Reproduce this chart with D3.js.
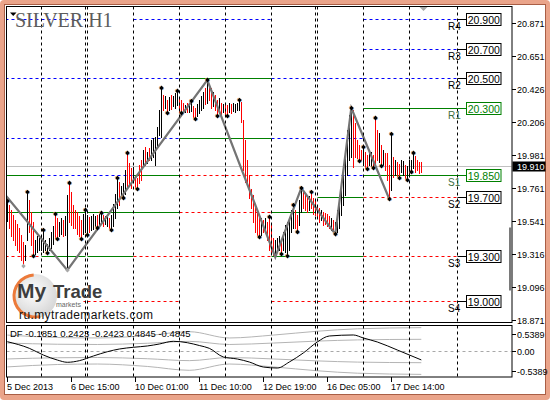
<!DOCTYPE html>
<html>
<head>
<meta charset="utf-8">
<script src="https://cdn.jsdelivr.net/npm/d3@7"></script>
<style>
  body { margin: 0; background: #fff; }
  svg { display: block; }
  text { font-family: "Liberation Sans", Arial, sans-serif; }
</style>
</head>
<body>
<svg id="chart" width="550" height="400"></svg>
<script>
// ---- data (SILVER H1, 5 Dec 2013 06:00 .. 18 Dec 2013 06:00) ----
// bars by day, high / low / direction (u = up black, d = down red)
const barHigh = [
  19.673,19.646,19.613,19.579,19.545,19.519,19.492,19.444,19.397,19.377,19.734,19.680,19.599,19.532,19.411,19.438,19.424,
  19.438,19.478,19.411,19.384,19.424,19.465,19.505,19.586,19.559,19.532,19.559,19.545,19.572,19.714,19.795,19.734,19.646,19.613,19.599,19.572,19.545,19.586,19.613,
  19.579,19.566,19.572,19.586,19.572,19.579,19.586,19.593,19.579,19.572,19.566,19.559,19.579,19.653,19.721,19.828,19.801,19.775,19.795,19.882,19.997,19.930,19.896,
  19.903,19.842,19.828,19.916,19.950,20.017,20.037,20.004,20.031,20.085,20.098,20.105,20.172,20.287,20.435,20.388,20.381,20.354,20.374,20.388,20.381,20.401,20.415,
  20.374,20.354,20.334,20.320,20.334,20.327,20.347,20.314,20.300,20.327,20.354,20.381,20.408,20.435,20.489,20.462,20.435,20.408,20.388,20.354,20.368,20.334,20.327,
  20.327,20.320,20.334,20.327,20.334,20.327,20.334,20.354,20.341,20.219,20.085,19.950,19.849,19.754,19.714,19.646,19.613,19.586,19.559,19.545,19.559,19.532,19.566,
  19.512,19.424,19.411,19.424,19.438,19.411,19.465,19.512,19.532,19.559,19.613,19.646,19.613,19.579,19.680,19.761,19.734,19.721,19.714,19.707,19.734,19.694,19.680,
  19.646,19.626,19.613,19.599,19.593,19.586,19.572,19.559,19.545,19.532,19.613,19.667,19.748,19.882,19.970,20.152,20.253,20.300,20.287,20.199,20.085,20.051,20.017,
  20.037,20.004,19.983,20.017,20.004,19.983,20.233,20.152,20.132,20.051,20.017,19.997,19.997,19.916,20.125,19.970,19.950,19.936,19.923,19.950,19.943,19.916,19.909,
  19.950,19.950,19.997,19.977,19.950,19.936,19.936
];
const barLow = [
  19.539,19.492,19.438,19.411,19.377,19.343,19.330,19.276,19.235,19.276,19.411,19.465,19.377,19.303,19.316,19.330,19.343,
  19.343,19.330,19.343,19.323,19.343,19.357,19.384,19.424,19.417,19.438,19.451,19.438,19.444,19.208,19.532,19.512,19.492,19.492,19.451,19.438,19.417,19.451,19.465,
  19.444,19.465,19.478,19.485,19.505,19.492,19.505,19.519,19.505,19.519,19.505,19.492,19.478,19.505,19.559,19.626,19.646,19.707,19.694,19.721,19.768,19.775,19.761,
  19.815,19.761,19.754,19.795,19.815,19.903,19.916,19.930,19.950,19.950,19.970,19.916,20.037,20.118,20.105,20.287,20.300,20.266,20.287,20.293,20.314,20.300,20.320,
  20.273,20.266,20.280,20.273,20.273,20.273,20.280,20.240,20.226,20.246,20.266,20.287,20.300,20.327,20.334,20.354,20.300,20.314,20.287,20.246,20.273,20.260,20.273,
  20.253,20.246,20.273,20.266,20.280,20.273,20.287,20.287,20.206,19.882,19.801,19.781,19.694,19.626,19.532,19.465,19.444,19.431,19.444,19.465,19.478,19.411,19.343,
  19.330,19.309,19.296,19.330,19.343,19.316,19.343,19.330,19.303,19.343,19.465,19.492,19.492,19.465,19.512,19.599,19.626,19.613,19.599,19.613,19.626,19.586,19.579,
  19.559,19.532,19.545,19.512,19.519,19.505,19.492,19.478,19.465,19.451,19.465,19.492,19.579,19.646,19.714,19.849,19.950,19.970,19.903,19.970,19.963,19.943,19.950,
  19.916,19.896,19.889,19.916,19.909,19.896,19.930,19.950,19.936,19.909,19.916,19.882,19.815,19.687,19.748,19.835,19.849,19.842,19.828,19.869,19.849,19.828,19.815,
  19.849,19.869,19.896,19.869,19.882,19.862,19.869
];
const barDir = (
  "u d d d d d d d d u u d d d u u u " +
  "u u u u u u u d d u u d u u d d d d d d d u u " +
  "u d u u u d u u d u u d u u u u d u u u d d d " +
  "u d d d d u d u d u u u u u u d u d u d u u u " +
  "d d d u d u u d d u u u u d u d d u d d u d u " +
  "d d u d u u u u d d d d d d d d d d u d u d d " +
  "d d u u u d u u u u u u d d u u d d d u d d d " +
  "d d u d d d d u d u u u u u u u u u d d d d d " +
  "u d d u u d d d u d u d d d u d u d d u u d u " +
  "u u u d d d d"
).trim().split(/\s+/);

const fracUp = [0,10,18,24,31,39,47,55,60,77,85,92,100,116,131,143,147,152,172,178,184,192,203];
const fracDown = [13,20,25,37,40,45,52,58,65,80,87,94,105,110,126,137,140,145,164,176,180,183,187,191,196,200,202];
const fracFaint = [8,30];

// zigzag swing points [bar, price]
const zigzag = [[-1,19.714],[30,19.208],[100,20.489],[134,19.296],[147,19.761],[164,19.451],[172,20.300],[191,19.687]];

// day separators (bar index), time axis
const separators = [17,39,40,63,86,109,132,154,155,178,201,225];
const timeBars = [0,32,64,96,128,160,192];
const timeLabels = ["5 Dec 2013","6 Dec 15:00","10 Dec 01:00","11 Dec 10:00","12 Dec 19:00","16 Dec 05:00","17 Dec 14:00"];

// price axis
const priceTicks = [20.871,20.651,20.426,20.206,19.981,19.761,19.541,19.316,19.096,18.871];
const lastPrice = 19.910;

// daily pivot levels: for each level, kind per day (R = resistance, F = first level, S = support, - = none)
const pivotDays = [[-1,17],[17,39],[40,63],[63,86],[86,109],[109,132],[132,154],[155,178],[178,225]];
const pivotLevels = [20.9,20.7,20.5,20.3,20.1,19.85,19.7,19.6,19.3,19.0];
const pivotKinds = [
  "RR-RRR--R",
  "--------R",
  "RRRRFFRRR",
  "--------F",
  "RRRRFFRR-",
  "FRRFSSRRF",
  "-------FS",
  "FFFFSSF--",
  "SFFSSSFFS",
  "SSSS--SSS"
];
const lastNames = ["R4","R3","R2","R1","S1","S2","S3","S4"];
const lastLevels = [20.9,20.7,20.5,20.3,19.85,19.7,19.3,19.0];
const lastFirst = [false,false,false,true,true,false,false,false];

// DF oscillator (sampled) and its band
const dfBars = [0,11,18,25,30,36,43,50,56,63,70,76,83,90,96,101,108,115,121,128,135,141,148,155,161,173,178,185,195,207];
const dfValues = [0.193,0.056,-0.083,-0.187,-0.234,-0.201,-0.104,-0.015,0.041,0.077,0.104,0.145,0.201,0.172,0.114,0.056,-0.124,-0.166,-0.228,-0.332,-0.353,-0.228,-0.041,0.187,0.311,0.332,0.270,0.187,0.021,-0.1851];
const bandBars = [0,25,45,70,91,111,133,155,175,207];
const bandValues = [0.33,0.28,0.27,0.32,0.40,0.27,0.33,0.41,0.46,0.4845];
const dfLegend = ["-0.1851","0.2423","-0.2423","0.4845","-0.4845"];
const dfTicks = [0.5389,0,-0.5389];
const dfTickLabels = ["0.5389","0.00","-0.5389"];

// ---- layout ----
const L = 6.5, R = 512, T = 6.5, B = 322.5, IT = 325.5, IB = 377;
const x = d3.scaleLinear().domain([0,225]).range([7.3,457.3]);
const y = d3.scaleLinear().domain([19.0,20.9]).range([301,19]);
const yi = d3.scaleLinear().domain([-0.5389,0.5389]).range([IB,IT-0.5]);
const px = v => Math.floor(x(v)) + 0.5;
const py = v => Math.round(y(v)) + 0.5;

const svg = d3.select('#chart');
const defs = svg.append('defs');
defs.append('clipPath').attr('id','clipMain').append('rect')
  .attr('x',L+0.5).attr('y',T+0.5).attr('width',R-L-1).attr('height',B-T-1);
defs.append('clipPath').attr('id','clipInd').append('rect')
  .attr('x',L+0.5).attr('y',IT+0.5).attr('width',R-L-1).attr('height',IB-IT-1);
const grad = defs.append('radialGradient').attr('id','logoGrad').attr('cx','45%').attr('cy','40%').attr('r','60%');
grad.append('stop').attr('offset','0%').attr('stop-color','#ffffff');
grad.append('stop').attr('offset','100%').attr('stop-color','#d6d6d6');

// window frame
svg.append('rect').attr('width',550).attr('height',400).attr('rx',4).attr('fill','#eaa48a');
svg.append('rect').attr('x',4.5).attr('y',4.5).attr('width',541).attr('height',390)
  .attr('fill','#fff').attr('stroke','#a95e45');

const gMain = svg.append('g').attr('clip-path','url(#clipMain)');
const gInd = svg.append('g').attr('clip-path','url(#clipInd)');

// day separators
separators.forEach(i => {
  [[T,B],[IT,IB]].forEach(([a,b]) => {
    svg.append('line').attr('x1',px(i)).attr('x2',px(i)).attr('y1',a).attr('y2',b)
      .attr('stroke','#000').attr('stroke-dasharray','3,3');
  });
});

// pivot levels
const kindColor = { R: '#0000ff', F: '#008000', S: '#ff0000' };
pivotLevels.forEach((p, li) => {
  pivotKinds[li].split('').forEach((k, di) => {
    if (k === '-') return;
    const [a, b] = pivotDays[di];
    gMain.append('line')
      .attr('x1', px(a)).attr('x2', px(b)).attr('y1', py(p)).attr('y2', py(p))
      .attr('stroke', kindColor[k])
      .attr('stroke-dasharray', k === 'F' ? null : '3,3');
  });
});

// current price line
gMain.append('line').attr('x1',L).attr('x2',R).attr('y1',py(lastPrice)).attr('y2',py(lastPrice))
  .attr('stroke','#c0c0c0');

// bars
gMain.selectAll('line.bar').data(barHigh).enter().append('line')
  .attr('class','bar')
  .attr('x1',(d,i)=>px(i)).attr('x2',(d,i)=>px(i))
  .attr('y1',d=>Math.round(y(d))).attr('y2',(d,i)=>Math.round(y(barLow[i]))+1)
  .attr('stroke',(d,i)=>barDir[i]==='u' ? '#000' : '#ff0000');

// zigzag
gMain.append('path').datum(zigzag)
  .attr('d', d3.line().x(d=>x(d[0])).y(d=>y(d[1])))
  .attr('fill','none').attr('stroke','#747474').attr('stroke-width',2.2);

// fractal markers
function marker(cx, cy, col) {
  gMain.append('circle').attr('cx',cx-0.8).attr('cy',cy-0.3).attr('r',2).attr('fill','#ffa24a').attr('opacity',0.6);
  gMain.append('circle').attr('cx',cx+0.8).attr('cy',cy+0.4).attr('r',1.8).attr('fill','#4aa0ff').attr('opacity',0.5);
  gMain.append('path')
    .attr('d',`M${cx},${cy-2.4}L${cx+2.2},${cy}L${cx},${cy+2.4}L${cx-2.2},${cy}Z`)
    .attr('fill',col);
}
fracUp.forEach(i => marker(px(i), y(barHigh[i]), '#000'));
fracDown.forEach(i => marker(px(i), y(barLow[i]), '#000'));
fracFaint.forEach(i => {
  const cx = px(i), cy = y(barLow[i]);
  gMain.append('path')
    .attr('d',`M${cx},${cy-2.4}L${cx+2.2},${cy}L${cx},${cy+2.4}L${cx-2.2},${cy}Z`)
    .attr('fill','#a8a8a8');
});

// pivot labels of the current day
lastLevels.forEach((p, k) => {
  const yy = py(p);
  const col = lastFirst[k] ? '#008000' : '#000';
  svg.append('line').attr('x1',px(225)).attr('x2',466.5).attr('y1',yy).attr('y2',yy).attr('stroke',col);
  svg.append('rect').attr('x',466.5).attr('y',yy-6).attr('width',34.5).attr('height',12)
    .attr('fill','#fff').attr('stroke',col);
  svg.append('text').attr('x',483.8).attr('y',yy+0.5).attr('text-anchor','middle')
    .attr('dominant-baseline','central').attr('font-size',10.5).attr('fill',col)
    .text(p.toFixed(3));
  svg.append('text').attr('x',448).attr('y',yy+10.5).attr('font-size',10)
    .attr('fill', lastFirst[k] ? '#3d6e3d' : '#000').text(lastNames[k]);
});

// chart shift marker
svg.append('path').attr('d','M419,6.5L428,6.5L423.5,11Z').attr('fill','#a8a8a8');

// panel borders
svg.append('rect').attr('x',L).attr('y',T).attr('width',R-L).attr('height',B-T)
  .attr('fill','none').attr('stroke','#000');
svg.append('rect').attr('x',L).attr('y',IT).attr('width',R-L).attr('height',IB-IT)
  .attr('fill','none').attr('stroke','#000');

// scroll mark on the right border
svg.append('rect').attr('x',509).attr('y',227.5).attr('width',3.5).attr('height',63).attr('fill','#7a7a7a');

// price axis
priceTicks.forEach(v => {
  const yy = Math.round(y(v)) + 0.5;
  svg.append('line').attr('x1',R).attr('x2',R+4).attr('y1',yy).attr('y2',yy).attr('stroke','#000');
  svg.append('text').attr('x',R+5).attr('y',yy).attr('dominant-baseline','central')
    .attr('font-size',9).text(v.toFixed(3));
});
svg.append('rect').attr('x',R+0.5).attr('y',py(lastPrice)-5).attr('width',33).attr('height',10).attr('fill','#000');
svg.append('text').attr('x',R+5).attr('y',py(lastPrice)).attr('dominant-baseline','central')
  .attr('font-size',9).attr('fill','#fff').text(lastPrice.toFixed(3));

// title
svg.append('path').attr('d','M10,12.5L16.5,12.5L13.25,16Z').attr('fill','#000');
svg.append('text').attr('x',15).attr('y',27).attr('font-size',20)
  .style('font-family','"Liberation Serif","Times New Roman",serif')
  .attr('fill','#5c5c5c').text('SILVER H1');

// logo
const lg = svg.append('g');
lg.append('rect').attr('x',7).attr('y',273).attr('width',74).attr('height',49).attr('fill','#fff');
lg.append('circle').attr('cx',35).attr('cy',296).attr('r',22).attr('fill','url(#logoGrad)');
lg.append('path').attr('transform','translate(35,296)')
  .attr('d', d3.arc().innerRadius(19.5).outerRadius(22.5).startAngle(-Math.PI*1.08).endAngle(-Math.PI*0.02)())
  .attr('fill','#ec7a3a');
lg.append('text').attr('x',17).attr('y',298).attr('font-size',21).attr('font-weight','bold')
  .attr('fill','#3d3d3d').text('My');
lg.append('text').attr('x',53).attr('y',298).attr('font-size',18.5).attr('font-weight','bold')
  .attr('fill','#3d3d3d').text('Trade');
lg.append('text').attr('x',56).attr('y',307).attr('font-size',7).attr('fill','#666').text('markets');
lg.append('text').attr('x',19).attr('y',318.5).attr('font-size',12).attr('letter-spacing',0.4)
  .attr('fill','#111').text('ru.mytrademarkets.com');

// indicator panel
gInd.append('line').attr('x1',L).attr('x2',R).attr('y1',Math.round(yi(0))+0.5).attr('y2',Math.round(yi(0))+0.5)
  .attr('stroke','#a8a8a8').attr('stroke-dasharray','3,3');
[1,0.5,-0.5,-1].forEach(f => {
  gInd.append('path').datum(bandBars.map((b,k)=>[b, bandValues[k]*f]))
    .attr('d', d3.line().curve(d3.curveMonotoneX).x(d=>x(d[0])).y(d=>yi(d[1])))
    .attr('fill','none').attr('stroke','#b4b4b4');
});
gInd.append('path').datum(dfBars.map((b,k)=>[b, dfValues[k]]))
  .attr('d', d3.line().curve(d3.curveMonotoneX).x(d=>x(d[0])).y(d=>yi(d[1])))
  .attr('fill','none').attr('stroke','#000');
svg.append('text').attr('x',10).attr('y',337).attr('font-size',9.5)
  .text('DF ' + dfLegend.join(' '));
dfTicks.forEach((v,k) => {
  const yy = Math.round(Math.min(Math.max(yi(v), IT+8.5), IB-6.5)) + 0.5;
  svg.append('line').attr('x1',R).attr('x2',R+4).attr('y1',yy).attr('y2',yy).attr('stroke','#000');
  svg.append('text').attr('x',R+5).attr('y',yy).attr('dominant-baseline','central')
    .attr('font-size',9).text(dfTickLabels[k]);
});

// time axis
timeBars.forEach((b,k) => {
  svg.append('line').attr('x1',px(b)).attr('x2',px(b)).attr('y1',IB).attr('y2',IB+5).attr('stroke','#000');
  svg.append('text').attr('x',px(b)-0.5).attr('y',389.5).attr('font-size',9).text(timeLabels[k]);
});
</script>
</body>
</html>
